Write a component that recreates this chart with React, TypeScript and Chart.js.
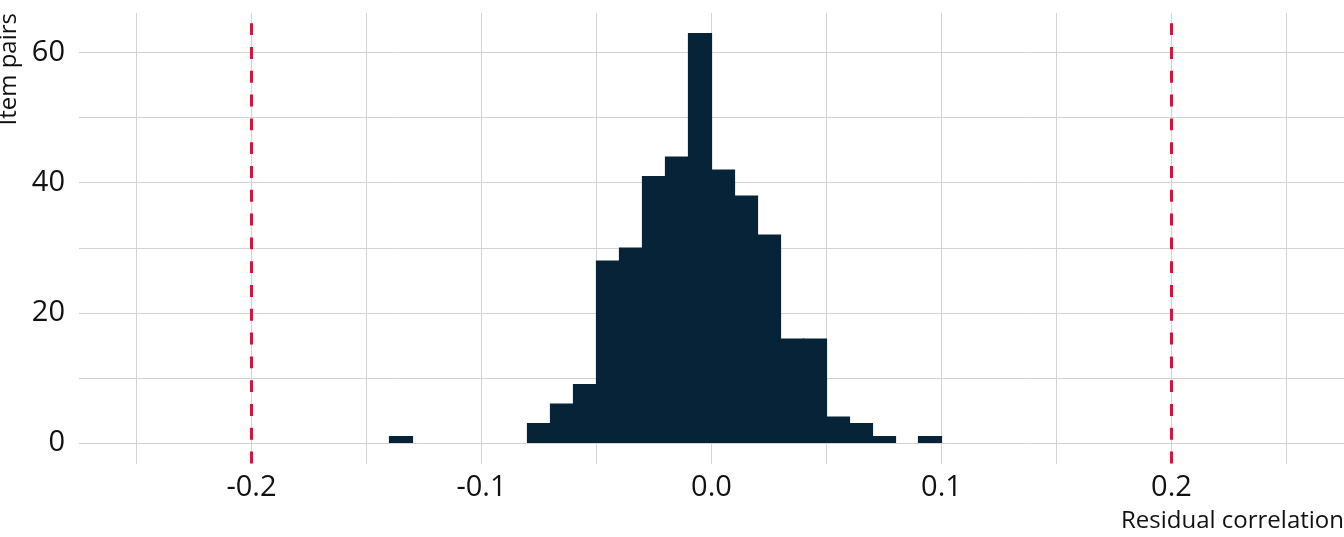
import { useEffect, useRef } from "react";
import { Chart, registerables } from "chart.js";

Chart.register(...registerables);

// histogram bins (lower edge) and counts, bin width 0.01
const binStarts = [
  -0.14, -0.08, -0.07, -0.06, -0.05, -0.04, -0.03, -0.02, -0.01, 0.0, 0.01,
  0.02, 0.03, 0.04, 0.05, 0.06, 0.07, 0.09,
];
const counts = [1, 3, 6, 9, 28, 30, 41, 44, 63, 42, 38, 32, 16, 16, 4, 3, 1, 1];
const binWidth = 0.01;

const cutoffs = [-0.2, 0.2];

const xGridTicks = [-0.25, -0.2, -0.15, -0.1, -0.05, 0, 0.05, 0.1, 0.15, 0.2, 0.25];
const xLabelTicks = [-0.2, -0.1, 0, 0.1, 0.2];
const yGridTicks = [0, 10, 20, 30, 40, 50, 60];
const yLabelTicks = [0, 20, 40, 60];

const BAR = "#072337";
const CUTOFF = "#d7153a";
const GRID = "#d3d3d3";
const TEXT = "#111111";
const FONT = "'Open Sans', 'Noto Sans', sans-serif";

const cutoffLines = {
  id: "cutoffLines",
  afterDatasetsDraw(chart: Chart) {
    const { ctx, chartArea, scales } = chart;
    ctx.save();
    ctx.strokeStyle = CUTOFF;
    ctx.lineWidth = 3;
    ctx.setLineDash([11.9, 11.9]);
    for (const c of cutoffs) {
      const x = scales.x.getPixelForValue(c);
      ctx.beginPath();
      ctx.moveTo(x, chartArea.bottom);
      ctx.lineTo(x, chartArea.top);
      ctx.stroke();
    }
    ctx.restore();
  },
};

const near = (list: number[], v: number) => list.some((t) => Math.abs(t - v) < 1e-9);

export default function App() {
  const canvasRef = useRef<HTMLCanvasElement>(null);

  useEffect(() => {
    document.body.style.margin = "0";
    const canvas = canvasRef.current;
    if (!canvas) return;

    const chart = new Chart(canvas, {
      type: "bar",
      data: {
        datasets: [
          {
            data: binStarts.map((b, i) => ({ x: b + binWidth / 2, y: counts[i] })),
            backgroundColor: BAR,
            borderWidth: 0,
            inflateAmount: 0.6,
            barPercentage: 1,
            categoryPercentage: 1,
          },
        ],
      },
      options: {
        animation: false,
        responsive: true,
        maintainAspectRatio: false,
        layout: { padding: { top: 13, left: 0, right: 0, bottom: 0 } },
        plugins: {
          legend: { display: false },
          tooltip: { enabled: false },
        },
        scales: {
          x: {
            type: "linear",
            min: -0.275,
            max: 0.275,
            offset: false,
            afterBuildTicks(scale) {
              scale.ticks = xGridTicks.map((value) => ({ value }));
            },
            afterFit(scale) {
              scale.height = 73.5;
              scale.paddingLeft = 0;
              scale.paddingRight = 0;
            },
            border: { display: false },
            grid: { color: GRID, lineWidth: 1, drawTicks: false, offset: false },
            ticks: {
              padding: 7,
              color: TEXT,
              font: { family: FONT, size: 29 },
              maxRotation: 0,
              autoSkip: false,
              callback(v) {
                const n = Number(v);
                return near(xLabelTicks, n) ? n.toFixed(1) : "";
              },
            },
            title: {
              display: true,
              text: "Residual correlation",
              align: "end",
              color: TEXT,
              font: { family: FONT, size: 24 },
              padding: { top: 0, bottom: 1 },
            },
          },
          y: {
            min: -3.15,
            max: 66.15,
            afterBuildTicks(scale) {
              scale.ticks = yGridTicks.map((value) => ({ value }));
            },
            afterFit(scale) {
              scale.width = 79;
              scale.paddingTop = 0;
              scale.paddingBottom = 0;
            },
            border: { display: false },
            grid: { color: GRID, lineWidth: 1, drawTicks: false },
            ticks: {
              padding: 14,
              color: TEXT,
              font: { family: FONT, size: 29 },
              autoSkip: false,
              callback(v) {
                const n = Number(v);
                return near(yLabelTicks, n) ? String(n) : "";
              },
            },
            title: {
              display: true,
              text: "Item pairs",
              align: "end",
              color: TEXT,
              font: { family: FONT, size: 24, lineHeight: 0.8 },
              padding: { top: 0, bottom: 0 },
            },
          },
        },
      },
      plugins: [cutoffLines],
    });

    return () => chart.destroy();
  }, []);

  return (
    <div style={{ position: "relative", width: 1344, height: 537, background: "#ffffff" }}>
      <canvas ref={canvasRef} />
    </div>
  );
}
